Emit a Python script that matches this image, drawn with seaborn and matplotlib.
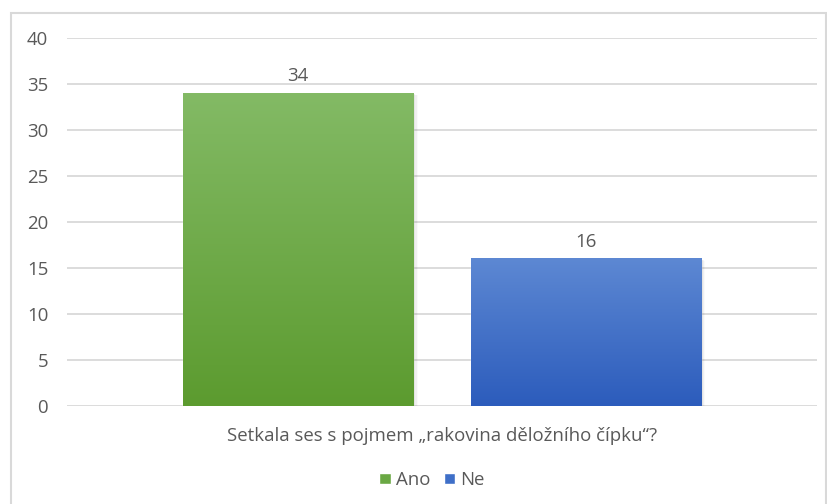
import matplotlib
matplotlib.use("Agg")
import matplotlib.pyplot as plt
from matplotlib.patches import Rectangle
import numpy as np
import pandas as pd
import seaborn as sns

question = "Setkala ses s pojmem „rakovina děložního čípku“?"
answers = ["Ano", "Ne"]
counts = [34, 16]
y_ticks = [0, 5, 10, 15, 20, 25, 30, 35, 40]

# gradient end colours (top, bottom) for each answer
top_colors = ["#83ba65", "#5d88d3"]
bottom_colors = ["#5c9b2f", "#2c5cbc"]
legend_colors = ["#6aa844", "#3f6fc8"]

text_color = "#595959"
grid_color = "#d9d9d9"
font_size = 13.4

sns.set_theme(style="white")
plt.rcParams["font.family"] = ["Open Sans", "DejaVu Sans"]

df = pd.DataFrame({"question": [question] * len(answers),
                   "answer": answers,
                   "count": counts})

fig = plt.figure(figsize=(8.27, 5.04), dpi=100)
ax = fig.add_axes([67 / 827, 1 - 406 / 504, 750 / 827, 368 / 504])

sns.barplot(data=df, x="question", y="count", hue="answer",
            palette=bottom_colors, width=0.767, gap=0.2,
            ax=ax, legend=False, zorder=3)

ax.set_xlim(-0.5, 0.5)
ax.set_ylim(0, 40)
ax.set_yticks(y_ticks)
ax.set_xlabel("")
ax.set_ylabel("")

# horizontal gridlines
for t in y_ticks:
    ax.axhline(t, color=grid_color, lw=1.3, zorder=1)

for s in ax.spines.values():
    s.set_visible(False)

ax.tick_params(axis="y", length=0, pad=13.5, labelsize=font_size, labelcolor=text_color)
ax.tick_params(axis="x", length=0, pad=15, labelsize=font_size, labelcolor=text_color)

# vertical gradient fill and soft shadow for every bar
for patch, c_top, c_bot, val in zip(ax.patches, top_colors, bottom_colors, counts):
    x0 = patch.get_x()
    w = patch.get_width()
    h = patch.get_height()
    # shadow to the right/bottom
    for i, a in enumerate([0.10, 0.07, 0.04, 0.02]):
        off = 0.0015 * (i + 1)
        ax.add_patch(Rectangle((x0 + off, 0), w, h - 0.05 * (i + 1),
                               facecolor="black", edgecolor="none",
                               alpha=a, zorder=2))
    ct = np.array(matplotlib.colors.to_rgb(c_top))
    cb = np.array(matplotlib.colors.to_rgb(c_bot))
    ramp = np.linspace(0, 1, 256)[:, None]
    img = (ct[None, :] * (1 - ramp) + cb[None, :] * ramp)[:, None, :]
    ax.imshow(img, extent=(x0, x0 + w, 0, h), origin="upper",
              aspect="auto", zorder=3.5, interpolation="bilinear")
    ax.text(x0 + w / 2, h + 0.9, f"{val}", ha="center", va="bottom",
            fontsize=font_size, color=text_color, zorder=4)

ax.set_xlim(-0.5, 0.5)
ax.set_ylim(0, 40)

# legend below the plot
handles = [Rectangle((0, 0), 1, 1, facecolor=c) for c in legend_colors]
fig.legend(handles, answers, loc="center", bbox_to_anchor=(432 / 827, 1 - 480 / 504),
           ncol=2, frameon=False, fontsize=font_size, labelcolor=text_color,
           handlelength=0.6, handleheight=0.6, handletextpad=0.3,
           columnspacing=0.7)

# chart frame
fig.add_artist(Rectangle((11 / 827, -0.05), 815 / 827, 1.05 - 13 / 504,
                         transform=fig.transFigure, facecolor="none",
                         edgecolor=grid_color, lw=1.5, zorder=0))

fig.savefig("out.png", dpi=100, facecolor="white")
